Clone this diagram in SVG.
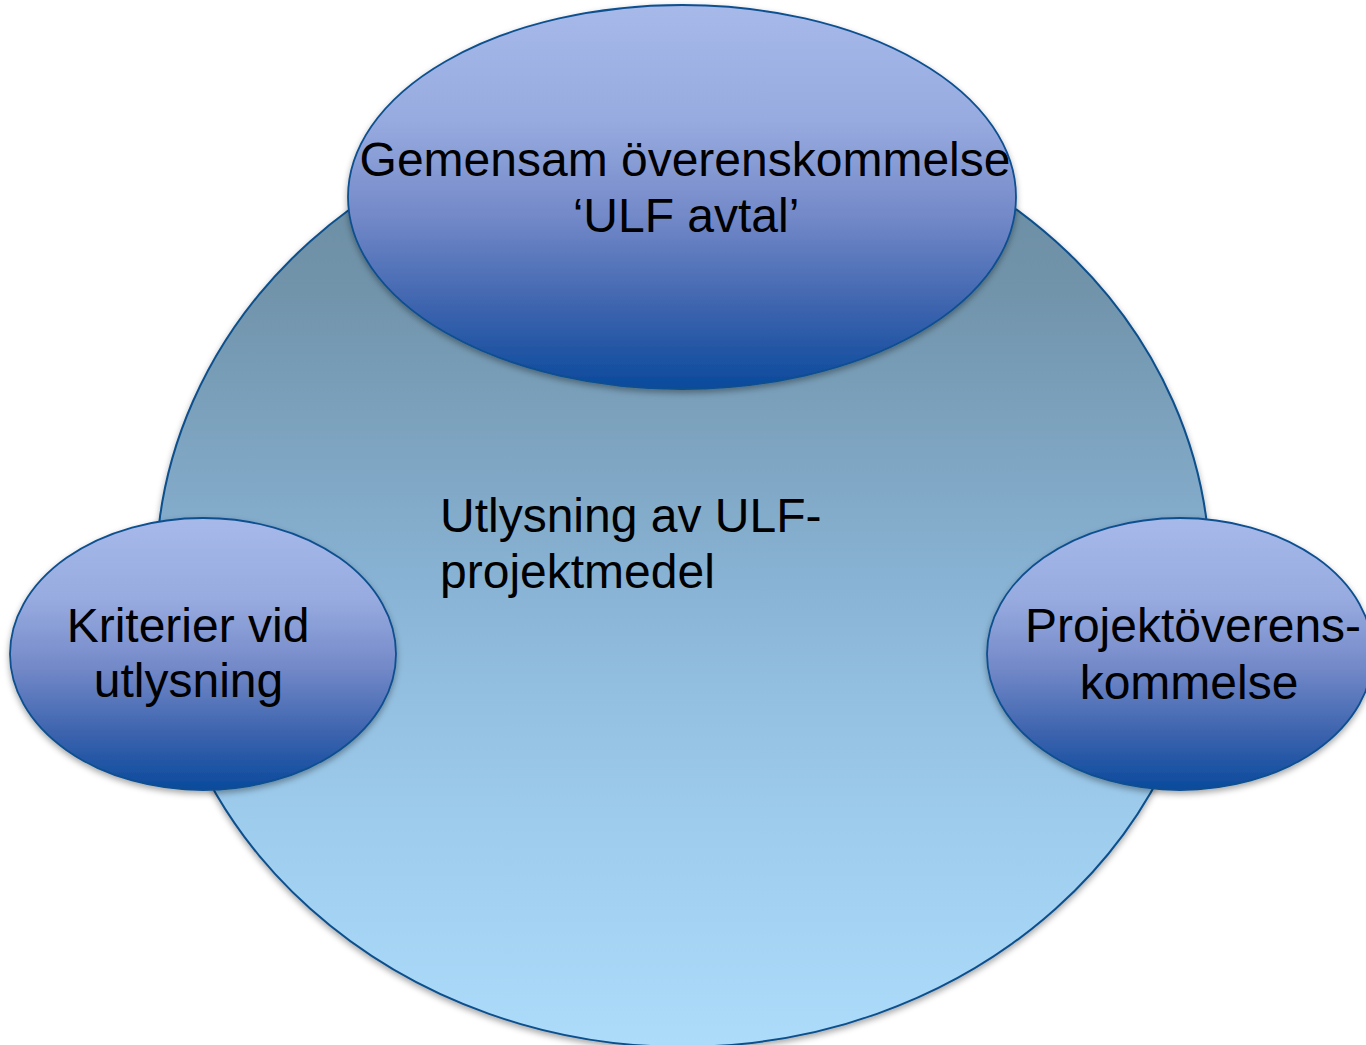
<svg xmlns="http://www.w3.org/2000/svg" width="1366" height="1045" viewBox="0 0 1366 1045">
  <defs>
    <linearGradient id="bigFill" gradientUnits="userSpaceOnUse" x1="0" y1="103" x2="0" y2="1047">
      <stop offset="0" stop-color="#688a9e"/>
      <stop offset="0.2" stop-color="#7194ab"/>
      <stop offset="0.5" stop-color="#88b2d3"/>
      <stop offset="0.75" stop-color="#9dcbec"/>
      <stop offset="1" stop-color="#addbfa"/>
    </linearGradient>
    <linearGradient id="smallFill" x1="0" y1="0" x2="0" y2="1">
      <stop offset="0" stop-color="#a6b9e9"/>
      <stop offset="0.3" stop-color="#98abe0"/>
      <stop offset="0.55" stop-color="#7389c8"/>
      <stop offset="0.8" stop-color="#3a62ad"/>
      <stop offset="1" stop-color="#0a4a9c"/>
    </linearGradient>
    <filter id="shadow" x="-10%" y="-10%" width="120%" height="125%">
      <feDropShadow dx="0" dy="3" stdDeviation="3" flood-color="#000" flood-opacity="0.35"/>
    </filter>
  </defs>
  <style>
    .big { fill: url(#bigFill); stroke: #0b4f8c; stroke-width: 2; filter: url(#shadow); }
    .small { fill: url(#smallFill); stroke: #0d4f8f; stroke-width: 1.8; filter: url(#shadow); }
    .lbl { font-family: "Liberation Sans", Arial, sans-serif; font-size: 48px; fill: #000; }
    .mid { text-anchor: middle; }
  </style>
  <rect width="1366" height="1045" fill="#ffffff"/>
  <g id="utlysning">
    <ellipse class="big" cx="683" cy="575" rx="527" ry="472"/>
    <text class="lbl" x="440" y="532">Utlysning av ULF-</text>
    <text class="lbl" x="440" y="588">projektmedel</text>
  </g>
  <g id="gemensam">
    <ellipse class="small" cx="682" cy="197" rx="334" ry="192"/>
    <text class="lbl mid" x="685" y="176">Gemensam överenskommelse</text>
    <text class="lbl mid" x="686" y="232">‘ULF avtal’</text>
  </g>
  <g id="kriterier">
    <ellipse class="small" cx="203" cy="654" rx="193" ry="136"/>
    <text class="lbl mid" x="188" y="642">Kriterier vid</text>
    <text class="lbl mid" x="188.5" y="697">utlysning</text>
  </g>
  <g id="projekt">
    <ellipse class="small" cx="1180" cy="654" rx="193" ry="136"/>
    <text class="lbl mid" x="1193" y="642">Projektöverens-</text>
    <text class="lbl mid" x="1189" y="699">kommelse</text>
  </g>
</svg>
